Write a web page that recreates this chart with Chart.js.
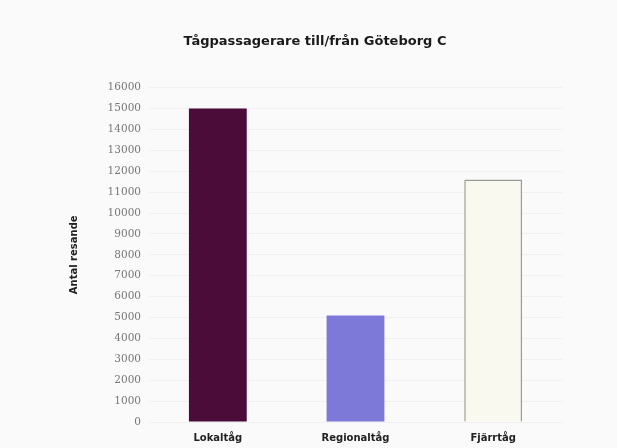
<!DOCTYPE html>
<html>
<head>
<meta charset="utf-8">
<script src="https://cdn.jsdelivr.net/npm/chart.js@4/dist/chart.umd.min.js"></script>
<style>
  html, body { margin: 0; padding: 0; background: #ffffff; }
  #wrap { width: 617px; height: 448px; position: relative; background: #fafafa; }
</style>
</head>
<body>
<div id="wrap"><canvas id="chart" width="617" height="448"></canvas></div>
<script>
// Data
const categories = ['Lokaltåg', 'Regionaltåg', 'Fjärrtåg'];
const passengers = [15000, 5100, 11600];
const barColors = ['#4b0c3a', '#7c79d8', '#f9f9ef'];
const borderColors = ['#4b0c3a', '#7c79d8', '#9a9a96'];
const chartTitle = 'Tågpassagerare till/från Göteborg C';
const yTitle = 'Antal resande';

const ctx = document.getElementById('chart').getContext('2d');

new Chart(ctx, {
    type: 'bar',
    data: {
        labels: categories,
        datasets: [{
            data: passengers,
            backgroundColor: barColors,
            borderColor: borderColors,
            borderWidth: [0, 0, 1.5],
            barPercentage: 0.42,
            categoryPercentage: 1.0
        }]
    },
    options: {
        responsive: false,
        animation: false,
        layout: { padding: { left: 68, right: 55, top: 34, bottom: 2 } },
        plugins: {
            legend: { display: false },
            tooltip: { enabled: false },
            title: {
                display: true,
                text: chartTitle,
                color: '#1a1a1a',
                font: { family: 'DejaVu Sans', size: 13, weight: 'bold' },
                padding: { top: 0, bottom: 38 }
            }
        },
        scales: {
            x: {
                grid: { display: false },
                border: { display: false },
                ticks: {
                    color: '#222',
                    font: { family: 'DejaVu Sans', size: 10, weight: 'bold' },
                    padding: 2
                }
            },
            y: {
                min: 0,
                max: 16000,
                ticks: {
                    stepSize: 1000,
                    color: '#777',
                    font: { family: 'DejaVu Serif', size: 10.5 },
                    padding: 8,
                    callback: (v) => String(v)
                },
                grid: { color: 'rgba(0,0,0,0.04)', drawTicks: false },
                border: { display: false },
                title: {
                    display: true,
                    text: yTitle,
                    color: '#222',
                    font: { family: 'DejaVu Sans', size: 10, weight: 'bold' },
                    padding: { top: 0, bottom: 10 }
                },
                afterFit: (scale) => { scale.width = 81; }
            }
        }
    }
});
</script>
</body>
</html>
